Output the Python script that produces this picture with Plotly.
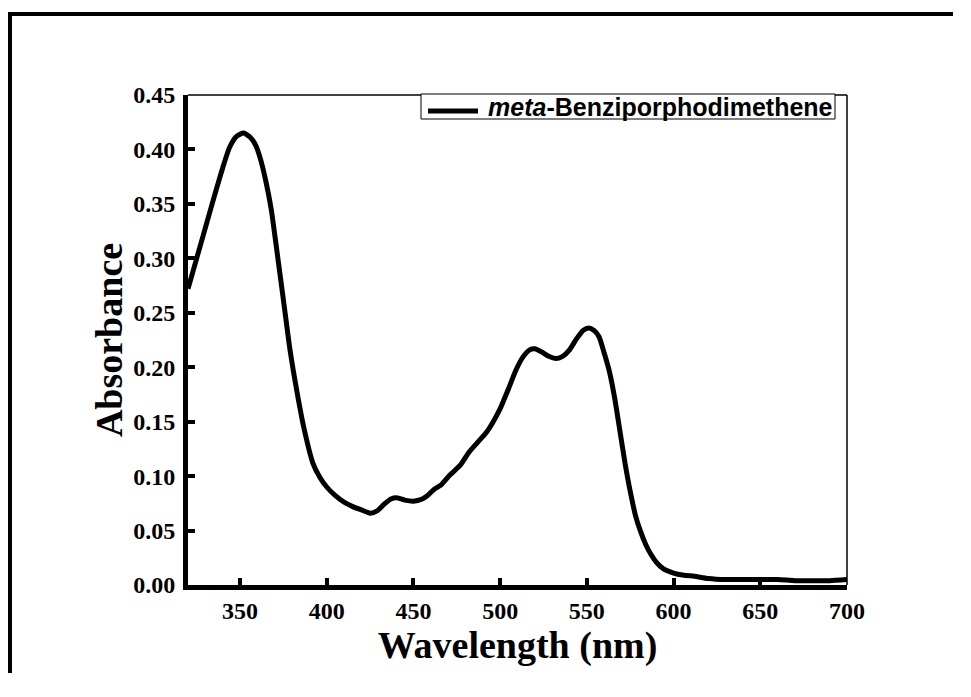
import plotly.graph_objects as go

wavelength = [320, 325, 330, 335, 340, 344, 348, 352, 356, 359, 362, 365, 368, 371,
              375, 379, 383, 387, 392, 396, 400, 405, 410, 415, 420, 425, 429, 433,
              437, 441, 445, 450, 455, 458, 462, 466, 471, 477, 482, 487, 492, 496,
              500, 505, 509, 513, 517, 520, 524, 528, 532, 536, 540, 544, 548, 551,
              554, 557, 560, 563, 566, 569, 572, 575, 578, 581, 584, 587, 590, 594,
              600, 606, 612, 620, 630, 640, 650, 660, 670, 680, 690, 700]
absorbance = [0.272, 0.300, 0.328, 0.356, 0.383, 0.402, 0.412, 0.415, 0.411, 0.404,
              0.390, 0.370, 0.345, 0.310, 0.262, 0.214, 0.176, 0.143, 0.112, 0.099,
              0.090, 0.082, 0.076, 0.072, 0.069, 0.066, 0.068, 0.074, 0.079, 0.080,
              0.078, 0.077, 0.079, 0.082, 0.088, 0.092, 0.101, 0.110, 0.122, 0.131,
              0.140, 0.150, 0.162, 0.181, 0.197, 0.209, 0.216, 0.217, 0.214, 0.210,
              0.208, 0.210, 0.216, 0.226, 0.234, 0.236, 0.234, 0.228, 0.213, 0.196,
              0.172, 0.142, 0.112, 0.086, 0.064, 0.049, 0.037, 0.028, 0.021, 0.015,
              0.011, 0.009, 0.008, 0.006, 0.005, 0.005, 0.005, 0.005, 0.004, 0.004,
              0.004, 0.005]
series_name = "<i>meta</i>-Benziporphodimethene"
x_ticks = [350, 400, 450, 500, 550, 600, 650, 700]
y_ticks = [0.00, 0.05, 0.10, 0.15, 0.20, 0.25, 0.30, 0.35, 0.40, 0.45]

# page body has an 8px margin: figure coords = screen coords - 8
OFF = 8
W, H = 945, 665
L, T = 180, 87
R = W - 839
B = H - 577
pw, ph = W - L - R, H - T - B

def px(xs):
    return (xs - OFF - L) / pw

def py(ys):
    return (H - B - (ys - OFF)) / ph

fig = go.Figure()
fig.add_trace(go.Scatter(
    x=wavelength, y=absorbance, mode="lines", name=series_name,
    line=dict(color="black", width=5, shape="spline", smoothing=0.6),
    showlegend=False,
))

serif = "Liberation Serif, Times New Roman, serif"
sans = "Liberation Sans, Arial, sans-serif"

leg_x0, leg_x1, leg_y0, leg_y1 = 421, 835, 94, 119
shapes = [
    # thin top and right plot frame
    dict(type="line", xref="paper", yref="paper", x0=0, x1=1, y0=1, y1=1,
         line=dict(color="black", width=1.5)),
    dict(type="line", xref="paper", yref="paper", x0=1, x1=1, y0=0, y1=1,
         line=dict(color="black", width=1.5)),
    # outer page frame (top and left edges visible)
    dict(type="line", xref="paper", yref="paper", x0=px(8), x1=px(971), y0=py(14), y1=py(14),
         line=dict(color="black", width=4), layer="below"),
    dict(type="line", xref="paper", yref="paper", x0=px(10), x1=px(10), y0=py(12), y1=py(697),
         line=dict(color="black", width=4), layer="below"),
    # legend box, sample line
    dict(type="rect", xref="paper", yref="paper",
         x0=px(leg_x0), x1=px(leg_x1), y0=py(leg_y0), y1=py(leg_y1),
         line=dict(color="black", width=1), fillcolor="white"),
    dict(type="line", xref="paper", yref="paper",
         x0=px(428), x1=px(478), y0=py(111), y1=py(111),
         line=dict(color="black", width=5)),
]
annotations = [
    dict(text="<b>" + series_name + "</b>", xref="paper", yref="paper",
         x=px(486), y=py(107), xanchor="left", yanchor="middle", showarrow=False,
         font=dict(family=sans, size=25, color="black")),
]

fig.update_layout(
    width=W, height=H,
    margin=dict(l=L, r=R, t=T, b=B),
    paper_bgcolor="white", plot_bgcolor="white",
    showlegend=False,
    xaxis=dict(
        range=[320, 700], tickvals=x_ticks, ticks="inside", ticklen=7, tickwidth=4,
        tickcolor="black", showline=True, linewidth=5, linecolor="black",
        showgrid=False, zeroline=False, ticklabelstandoff=0,
        tickfont=dict(family=serif, size=24, color="black", weight="bold"),
        title=dict(text="Wavelength (nm)", standoff=0,
                   font=dict(family=serif, size=38, color="black", weight="bold")),
    ),
    yaxis=dict(
        range=[0, 0.45], tickvals=y_ticks, tickformat=".2f", ticks="inside", ticklen=7,
        tickwidth=4, tickcolor="black", showline=True, linewidth=5, linecolor="black",
        showgrid=False, zeroline=False, ticklabelstandoff=3,
        tickfont=dict(family=serif, size=24, color="black", weight="bold"),
        title=dict(text="Absorbance", standoff=0,
                   font=dict(family=serif, size=38, color="black", weight="bold")),
    ),
    shapes=shapes,
    annotations=annotations,
)

fig.write_html("out.html")
